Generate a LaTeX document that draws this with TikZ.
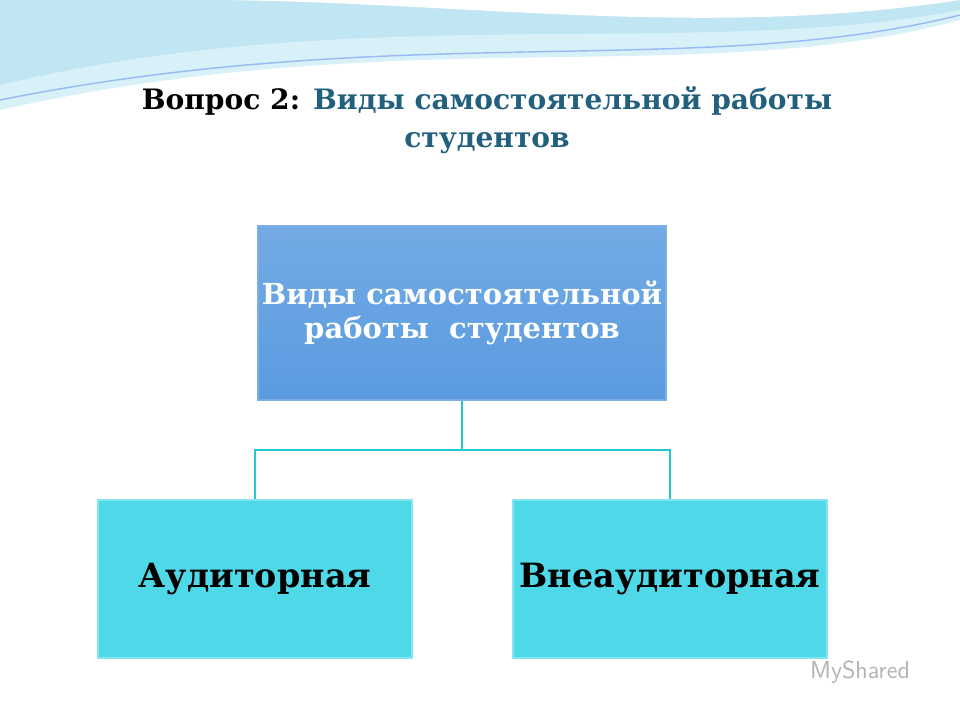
\documentclass[tikz,border=0pt]{standalone}
\usepackage{fontspec}
\setmainfont{DejaVu Serif}
\usetikzlibrary{positioning}
\definecolor{topblue}{HTML}{5A9BE0}
\definecolor{boxcyan}{HTML}{4FD9E8}
\definecolor{linkcol}{HTML}{25C6CC}
\definecolor{titlecol}{HTML}{22607E}
\definecolor{wave}{HTML}{BFE6F2}
\tikzset{
  headbox/.style={draw=topblue!80!white, line width=1pt, top color=topblue!85!white, bottom color=topblue,
    minimum width=8.16cm, minimum height=3.48cm, inner xsep=0pt, align=center, text=white,
    font=\fontsize{16.5}{19}\selectfont\bfseries},
  kindbox/.style={draw=boxcyan!70!white, line width=1pt, fill=boxcyan,
    minimum width=6.28cm, minimum height=3.16cm, font=\fontsize{19}{22}\selectfont\bfseries},
  link/.style={draw=linkcol, line width=1.6pt}
}
\begin{document}
\begin{tikzpicture}[x=0.02cm,y=-0.02cm]
\useasboundingbox (0,0) rectangle (960,720);
% waves at the top
\fill[wave!60] (0,0) -- (960,0) -- (960,20) .. controls (700,90) and (400,20) .. (0,110) -- cycle;
\fill[wave] (0,0) -- (960,0) -- (960,10) .. controls (700,60) and (350,0) .. (0,85) -- cycle;
\fill[white] (200,0) -- (960,0) .. controls (700,40) and (450,0) .. (200,0) -- cycle;
\draw[wave!80!blue, line width=0.8pt] (0,100) .. controls (400,20) and (700,80) .. (960,15);
% title
\node[font=\fontsize{16}{22}\selectfont\bfseries, align=center, text=titlecol] (title) at (487,120)
  {\textcolor{black}{Вопрос 2:} Виды самостоятельной работы\\студентов};
% boxes
\node[headbox] (head) at (462,313) {Виды самостоятельной\\работы\ \ студентов};
\node[kindbox] (aud) at (255,579) {Аудиторная};
\node[kindbox] (vne) at (670,579) {Внеаудиторная};
% connectors
\coordinate (split) at (462,450);
\draw[link] (head.south) -- (split) -| (aud.north);
\draw[link] (split) -| (vne.north);
\node[text=gray!60, font=\fontsize{14}{16}\selectfont\sffamily] (mark) at (860,672) {MyShared};
\end{tikzpicture}
\end{document}
